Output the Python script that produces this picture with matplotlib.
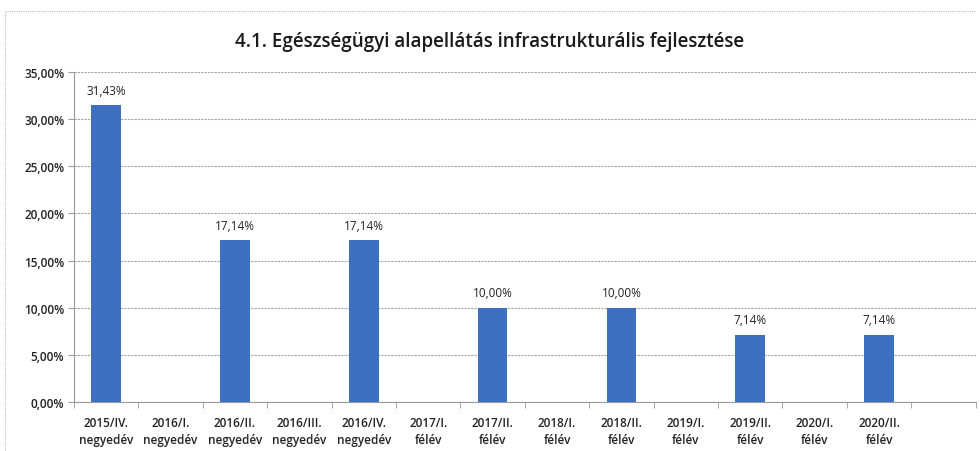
import numpy as np
import matplotlib.pyplot as plt
from matplotlib.lines import Line2D

categories = ['2015/IV.\nnegyedév', '2016/I.\nnegyedév', '2016/II.\nnegyedév',
              '2016/III.\nnegyedév', '2016/IV.\nnegyedév', '2017/I.\nfélév',
              '2017/II.\nfélév', '2018/I.\nfélév', '2018/II.\nfélév',
              '2019/I.\nfélév', '2019/II.\nfélév', '2020/I.\nfélév',
              '2020/II.\nfélév', '']
values = [31.43, 0, 17.14, 0, 17.14, 0, 10.00, 0, 10.00, 0, 7.14, 0, 7.14, 0]
yticks = [0, 5, 10, 15, 20, 25, 30, 35]

plt.rcParams['font.family'] = ['Open Sans', 'DejaVu Sans']

fig = plt.figure(figsize=(9.8, 4.52), dpi=100)
ax = fig.add_axes([0.0755, 0.108, 0.92, 0.731])

x = np.arange(len(categories))
ax.bar(x, values, width=0.46, color='#3f6fc1', zorder=3)

for xi, v in zip(x, values):
    if v > 0:
        ax.text(xi, v + 0.9, f'{v:.2f}%'.replace('.', ','), ha='center', va='bottom',
                fontsize=8.5, color='#222222')

ax.set_xlim(-0.5, len(categories) - 0.5)
ax.set_ylim(0, 35)
ax.set_yticks(yticks)
ax.set_yticklabels([f'{t:.2f}%'.replace('.', ',') for t in yticks], fontsize=8.5,
                   fontweight='semibold', color='#222222')
ax.set_xticks(x)
ax.set_xticklabels(categories, fontsize=8.5, fontweight='semibold', color='#222222',
                   linespacing=1.35)
ax.set_xticks(np.arange(len(categories) + 1) - 0.5, minor=True)
ax.tick_params(axis='x', which='major', length=0, pad=10)
ax.tick_params(axis='x', which='minor', length=4, color='#999999')
ax.tick_params(axis='y', length=4, color='#999999', pad=3)

ax.grid(axis='y', linestyle=(0, (2, 1)), color='#a5a5a5', linewidth=0.8, zorder=0)
for s in ['top', 'right']:
    ax.spines[s].set_visible(False)
ax.spines['left'].set_color('#999999')
ax.spines['bottom'].set_color('#999999')
ax.spines['bottom'].set_linestyle((0, (2, 1)))

fig.text(0.5, 0.907, '4.1. Egészségügyi alapellátás infrastrukturális fejlesztése',
         ha='center', va='center', fontsize=13.5, fontweight='semibold', color='#1a1a1a')

# chart border
fig.add_artist(Line2D([0.005, 0.995], [0.973, 0.973], color='#bbbbbb',
                      linestyle=(0, (1, 1)), linewidth=0.8))
fig.add_artist(Line2D([0.005, 0.005], [0.0, 0.973], color='#bbbbbb',
                      linestyle=(0, (1, 1)), linewidth=0.8))

fig.savefig('out.png', dpi=100)
